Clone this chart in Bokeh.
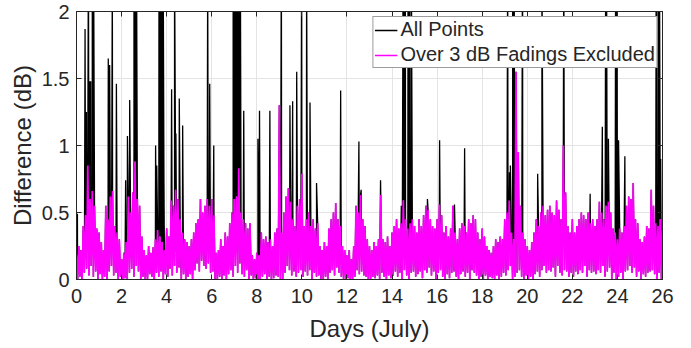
import numpy as np
from bokeh.plotting import figure
from bokeh.models import Range1d, FixedTicker, LinearAxis, Legend, LegendItem
from bokeh.embed import file_html
from bokeh.resources import INLINE

# Magenta series ("Over 3 dB Fadings Excluded"): local peaks every 0.1 day
# from day 0.0 to 26.0, and the troughs between them (at +0.05 day).
mag_peaks = [
    0.18, 0.25, 0.22, 0.40, 0.48, 0.85, 0.60, 0.66, 0.55, 0.38,
    0.35, 0.28, 0.22, 0.55, 0.45, 0.62, 0.66, 0.40, 0.35, 0.30,
    0.15, 0.20, 0.28, 0.62, 0.50, 0.65, 0.88, 0.60, 0.55, 0.32,
    0.22, 0.18, 0.25, 0.20, 0.24, 0.30, 0.37, 0.32, 0.28, 0.22,
    0.38, 0.32, 0.59, 0.55, 0.67, 0.60, 0.45, 0.35, 0.30, 0.28,
    0.25, 0.30, 0.35, 0.42, 0.45, 0.60, 0.50, 0.55, 0.60, 0.55,
    0.60, 0.48, 0.20, 0.22, 0.30, 0.25, 0.35, 0.32, 0.42, 0.50,
    0.60, 0.62, 0.83, 0.50, 0.45, 0.42, 0.38, 0.42, 0.18, 0.15,
    0.20, 0.18, 0.35, 0.30, 0.32, 0.28, 0.30, 0.25, 0.35, 0.38,
    1.30, 0.35, 0.50, 0.62, 0.68, 0.58, 0.45, 0.40, 0.55, 0.60,
    0.79, 0.40, 0.45, 0.50, 0.40, 0.45, 0.38, 0.42, 0.25, 0.22,
    0.28, 0.25, 0.38, 0.45, 0.50, 0.57, 0.45, 0.40, 0.25, 0.22,
    0.18, 0.22, 0.15, 0.25, 0.55, 0.50, 0.63, 0.45, 0.40, 0.30,
    0.25, 0.22, 0.28, 0.25, 0.30, 0.63, 0.30, 0.28, 0.32, 0.25,
    0.35, 0.40, 0.45, 0.38, 0.42, 0.59, 0.45, 0.38, 0.42, 0.45,
    0.40, 0.35, 0.45, 0.40, 0.48, 0.55, 0.52, 0.45, 0.40, 0.38,
    0.45, 0.56, 0.48, 0.35, 0.40, 0.32, 0.38, 0.55, 0.35, 0.30,
    0.38, 0.42, 0.40, 0.35, 0.45, 0.42, 0.48, 0.45, 0.35, 0.30,
    0.38, 0.32, 0.25, 0.22, 0.20, 0.25, 0.30, 0.28, 0.32, 0.30,
    0.45, 0.50, 0.59, 0.35, 0.30, 1.55, 0.95, 0.55, 0.35, 0.30,
    0.25, 0.22, 0.28, 0.35, 0.45, 0.40, 0.50, 0.55, 0.48, 0.52,
    0.55, 0.50, 0.48, 0.59, 0.52, 0.45, 1.00, 0.65, 0.40, 0.35,
    0.45, 0.35, 0.40, 0.45, 0.50, 0.48, 0.45, 0.50, 0.42, 0.45,
    0.40, 0.45, 0.58, 0.50, 0.45, 0.55, 0.58, 0.50, 0.38, 0.35,
    0.30, 0.38, 0.35, 0.40, 0.55, 0.62, 0.60, 0.72, 0.45, 0.42,
    0.30, 0.28, 0.32, 0.40, 0.38, 0.67, 0.55, 0.42, 0.40, 0.45,
    0.42,
]
mag_troughs = [
    0.00, 0.02, 0.00, 0.05, 0.08, 0.03, 0.10, 0.02, 0.06, 0.00,
    0.04, 0.00, 0.02, 0.00, 0.06, 0.10, 0.03, 0.05, 0.00, 0.02,
    0.00, 0.01, 0.00, 0.05, 0.08, 0.02, 0.10, 0.06, 0.00, 0.02,
    0.00, 0.00, 0.04, 0.02, 0.00, 0.05, 0.02, 0.06, 0.00, 0.04,
    0.02, 0.08, 0.03, 0.10, 0.05, 0.09, 0.00, 0.04, 0.00, 0.02,
    0.04, 0.00, 0.07, 0.12, 0.06, 0.14, 0.10, 0.08, 0.12, 0.05,
    0.06, 0.00, 0.00, 0.02, 0.00, 0.03, 0.00, 0.04, 0.07, 0.02,
    0.10, 0.05, 0.12, 0.04, 0.02, 0.07, 0.00, 0.03, 0.00, 0.01,
    0.00, 0.00, 0.02, 0.04, 0.00, 0.02, 0.00, 0.01, 0.03, 0.02,
    0.00, 0.00, 0.05, 0.10, 0.07, 0.03, 0.06, 0.02, 0.05, 0.07,
    0.02, 0.06, 0.03, 0.07, 0.00, 0.05, 0.02, 0.03, 0.00, 0.00,
    0.02, 0.00, 0.05, 0.07, 0.03, 0.09, 0.05, 0.02, 0.00, 0.00,
    0.01, 0.00, 0.00, 0.02, 0.07, 0.04, 0.06, 0.03, 0.02, 0.00,
    0.00, 0.02, 0.01, 0.03, 0.00, 0.05, 0.02, 0.00, 0.03, 0.01,
    0.03, 0.06, 0.02, 0.05, 0.00, 0.07, 0.03, 0.00, 0.05, 0.06,
    0.02, 0.04, 0.06, 0.01, 0.07, 0.05, 0.09, 0.03, 0.06, 0.00,
    0.05, 0.07, 0.02, 0.00, 0.04, 0.01, 0.05, 0.06, 0.02, 0.00,
    0.04, 0.06, 0.02, 0.05, 0.00, 0.07, 0.05, 0.03, 0.00, 0.02,
    0.00, 0.03, 0.00, 0.02, 0.01, 0.00, 0.03, 0.00, 0.02, 0.05,
    0.03, 0.07, 0.10, 0.00, 0.02, 0.05, 0.07, 0.02, 0.00, 0.03,
    0.00, 0.02, 0.00, 0.04, 0.06, 0.02, 0.07, 0.10, 0.05, 0.07,
    0.06, 0.09, 0.02, 0.10, 0.05, 0.03, 0.07, 0.06, 0.02, 0.05,
    0.02, 0.06, 0.04, 0.07, 0.05, 0.10, 0.02, 0.07, 0.05, 0.06,
    0.04, 0.07, 0.05, 0.10, 0.02, 0.06, 0.09, 0.00, 0.05, 0.00,
    0.02, 0.05, 0.00, 0.06, 0.07, 0.10, 0.05, 0.09, 0.02, 0.06,
    0.00, 0.04, 0.02, 0.05, 0.06, 0.07, 0.04, 0.00, 0.05, 0.00,
]

# Extra excursions present only in the full record ("All Points"): fading events.
spike_days = [
    0.04, 0.38, 0.44, 0.53, 0.58, 0.63, 0.70, 0.75,
    1.41, 1.47, 1.59, 1.77, 2.18, 2.26, 2.36, 2.55, 2.60, 2.66,
    3.51, 3.56, 3.66, 3.71, 3.76, 3.81, 3.85, 3.88,
    4.22, 4.35, 4.41, 4.56, 4.71, 5.82, 5.91, 6.09,
    6.95, 7.02, 7.08, 7.14, 7.20, 7.27, 7.42,
    8.05, 8.12, 8.58, 9.09, 9.47, 9.59, 9.77, 9.99,
    10.21, 10.36, 10.65, 11.72, 12.53, 12.63, 13.49,
    14.41, 14.49, 14.54, 14.59, 14.71, 14.78, 14.86,
    15.57, 16.11, 16.77, 17.22,
    19.13, 19.21, 19.25, 19.35, 19.42, 19.79, 20.46, 20.65, 21.62,
    22.79, 23.33, 23.48, 23.52, 23.60, 23.92, 23.98, 24.05, 24.33,
    25.72, 25.80, 25.87, 25.92,
]
spike_vals = [
    0.49, 1.87, 1.25, 2.60, 1.48, 1.48, 2.40, 2.80,
    1.65, 1.60, 2.30, 1.46, 0.74, 1.07, 1.34, 2.50, 2.20, 2.60,
    1.00, 0.85, 2.40, 2.70, 2.30, 2.90, 2.20, 0.73,
    1.42, 2.40, 1.09, 1.35, 1.15, 2.30, 1.46, 1.00,
    2.20, 2.60, 2.40, 2.80, 2.30, 2.50, 1.26,
    1.05, 1.26, 1.26, 2.60, 1.30, 1.33, 1.55, 2.40,
    2.30, 1.32, 0.72, 1.41, 1.03, 0.67, 0.74,
    0.55, 2.40, 2.70, 2.30, 2.50, 2.80, 2.30,
    0.60, 1.04, 0.56, 0.98,
    2.40, 0.80, 0.85, 2.50, 2.30, 2.60, 0.79, 2.40, 2.50,
    0.64, 1.14, 2.50, 2.30, 1.05, 2.40, 2.60, 1.04, 0.92,
    2.50, 2.70, 2.20, 0.90,
]

x_ticks = [0, 2, 4, 6, 8, 10, 12, 14, 16, 18, 20, 22, 24, 26]
y_ticks = [0, 0.5, 1, 1.5, 2]
y_tick_labels = ["0", "0.5", "1", "1.5", "2"]

# Sampling: peaks on a 0.1-day grid, troughs halfway between.
peak_t = np.round(np.arange(len(mag_peaks)) * 0.1, 3)
trough_t = np.round(np.arange(len(mag_troughs)) * 0.1 + 0.05, 3)
mag_t = np.concatenate([peak_t, trough_t])
mag_v = np.concatenate([mag_peaks, mag_troughs])
order = np.argsort(mag_t, kind="stable")
mag_t, mag_v = mag_t[order], mag_v[order]

all_t = np.concatenate([mag_t, spike_days])
all_v = np.concatenate([mag_v, spike_vals])
order = np.argsort(all_t, kind="stable")
all_t, all_v = all_t[order], all_v[order]

FONT = "Liberation Sans"
TXT = "#262626"

p = figure(width=691, height=348, output_backend="svg", toolbar_location=None,
           x_range=Range1d(0, 26), y_range=Range1d(0, 2),
           min_border_left=76, min_border_right=29, min_border_top=11,
           min_border_bottom=69)
p.background_fill_color = "white"
p.border_fill_color = "white"
p.outline_line_color = TXT
p.outline_line_width = 1

r_all = p.line(all_t, all_v, line_color="black", line_width=1.3)
r_mag = p.line(mag_t, mag_v, line_color="#ff00ff", line_width=1.7)

# axes
for ax in (p.xaxis[0], p.yaxis[0]):
    ax.axis_line_color = TXT
    ax.major_tick_line_color = TXT
    ax.major_tick_in = 5
    ax.major_tick_out = 0
    ax.minor_tick_line_color = None
    ax.major_label_text_font = FONT
    ax.major_label_text_font_size = "20px"
    ax.major_label_text_color = TXT
    ax.axis_label_text_font = FONT
    ax.axis_label_text_font_size = "24px"
    ax.axis_label_text_font_style = "normal"
    ax.axis_label_text_color = TXT

p.xaxis.ticker = FixedTicker(ticks=x_ticks)
p.yaxis.ticker = FixedTicker(ticks=y_ticks)
p.yaxis.major_label_overrides = {t: s for t, s in zip(y_ticks, y_tick_labels)}
p.xaxis.axis_label = "Days (July)"
p.yaxis.axis_label = "Difference (dB)"
p.xaxis.major_label_standoff = 9
p.xaxis.axis_label_standoff = 9
p.yaxis.major_label_standoff = 7
p.yaxis.axis_label_standoff = 3

# mirrored axes on top and right (tick marks only, no labels)
top = LinearAxis(ticker=FixedTicker(ticks=x_ticks), major_label_text_color=None,
                 axis_line_color=TXT, major_tick_line_color=TXT, major_tick_in=5,
                 major_tick_out=0, minor_tick_line_color=None, major_label_standoff=0)
right = LinearAxis(ticker=FixedTicker(ticks=y_ticks), major_label_text_color=None,
                   axis_line_color=TXT, major_tick_line_color=TXT, major_tick_in=5,
                   major_tick_out=0, minor_tick_line_color=None, major_label_standoff=0)
p.add_layout(top, "above")
p.add_layout(right, "right")

p.xgrid.ticker = FixedTicker(ticks=x_ticks)
p.ygrid.ticker = FixedTicker(ticks=y_ticks)
p.grid.grid_line_color = "#e4e4e4"
p.grid.grid_line_width = 1

legend = Legend(items=[LegendItem(label="All Points", renderers=[r_all]),
                       LegendItem(label="Over 3 dB Fadings Excluded", renderers=[r_mag])],
                location="top_right", margin=5, padding=1, spacing=2,
                glyph_width=23, glyph_height=22, label_height=22, label_standoff=3,
                label_text_font=FONT, label_text_font_size="20px", label_text_color=TXT,
                border_line_color="#3a3a3a", border_line_width=1,
                background_fill_color="white", background_fill_alpha=1)
p.add_layout(legend, "center")

open("out.html", "w").write(file_html(p, INLINE))
